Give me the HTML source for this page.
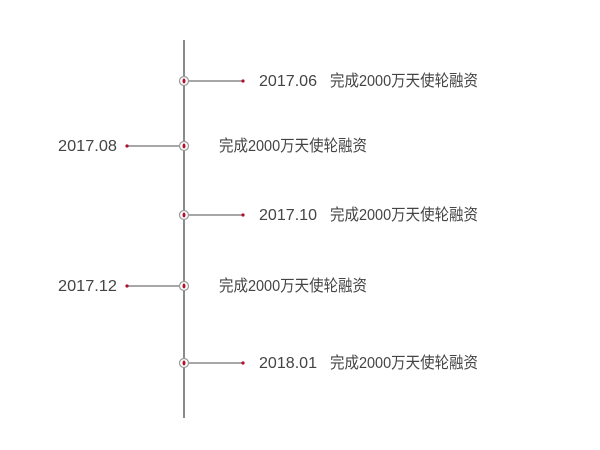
<!DOCTYPE html>
<html><head><meta charset="utf-8"><style>
html,body{margin:0;padding:0;background:#fff;width:600px;height:450px;overflow:hidden}
text{font-family:"Liberation Sans","Noto Sans CJK SC",sans-serif;font-size:16px;fill:#444}
</style></head><body>
<svg width="600" height="450" xmlns="http://www.w3.org/2000/svg">
<line x1="184" y1="40" x2="184" y2="418" stroke="#8a8a8a" stroke-width="2"/>
<g stroke="#8a8a8a" stroke-width="1.5">
<line x1="184" y1="81" x2="243" y2="81"/>
<line x1="127" y1="146" x2="184" y2="146"/>
<line x1="184" y1="215" x2="243" y2="215"/>
<line x1="127" y1="286" x2="184" y2="286"/>
<line x1="184" y1="363" x2="243" y2="363"/>
</g>
<g fill="#fff" stroke="#999" stroke-width="1.2">
<circle cx="184" cy="81" r="4.5"/><circle cx="184" cy="146" r="4.5"/><circle cx="184" cy="215" r="4.5"/><circle cx="184" cy="286" r="4.5"/><circle cx="184" cy="363" r="4.5"/>
</g>
<g fill="#b0102a">
<ellipse cx="184" cy="81" rx="1.5" ry="2.5"/><ellipse cx="184" cy="146" rx="1.5" ry="2.5"/><ellipse cx="184" cy="215" rx="1.5" ry="2.5"/><ellipse cx="184" cy="286" rx="1.5" ry="2.5"/><ellipse cx="184" cy="363" rx="1.5" ry="2.5"/>
<circle cx="243" cy="81" r="1.6"/><circle cx="127" cy="146" r="1.6"/><circle cx="243" cy="215" r="1.6"/><circle cx="127" cy="286" r="1.6"/><circle cx="243" cy="363" r="1.6"/>
</g>
<text x="259" y="86" textLength="58" lengthAdjust="spacingAndGlyphs">2017.06</text><text x="330" y="86" textLength="148" lengthAdjust="spacingAndGlyphs">完成2000万天使轮融资</text>
<text x="58" y="151" textLength="59" lengthAdjust="spacingAndGlyphs">2017.08</text><text x="219" y="151" textLength="148" lengthAdjust="spacingAndGlyphs">完成2000万天使轮融资</text>
<text x="259" y="220" textLength="58" lengthAdjust="spacingAndGlyphs">2017.10</text><text x="330" y="220" textLength="148" lengthAdjust="spacingAndGlyphs">完成2000万天使轮融资</text>
<text x="58" y="291" textLength="59" lengthAdjust="spacingAndGlyphs">2017.12</text><text x="219" y="291" textLength="148" lengthAdjust="spacingAndGlyphs">完成2000万天使轮融资</text>
<text x="259" y="368" textLength="58" lengthAdjust="spacingAndGlyphs">2018.01</text><text x="330" y="368" textLength="148" lengthAdjust="spacingAndGlyphs">完成2000万天使轮融资</text>
</svg>
</body></html>
